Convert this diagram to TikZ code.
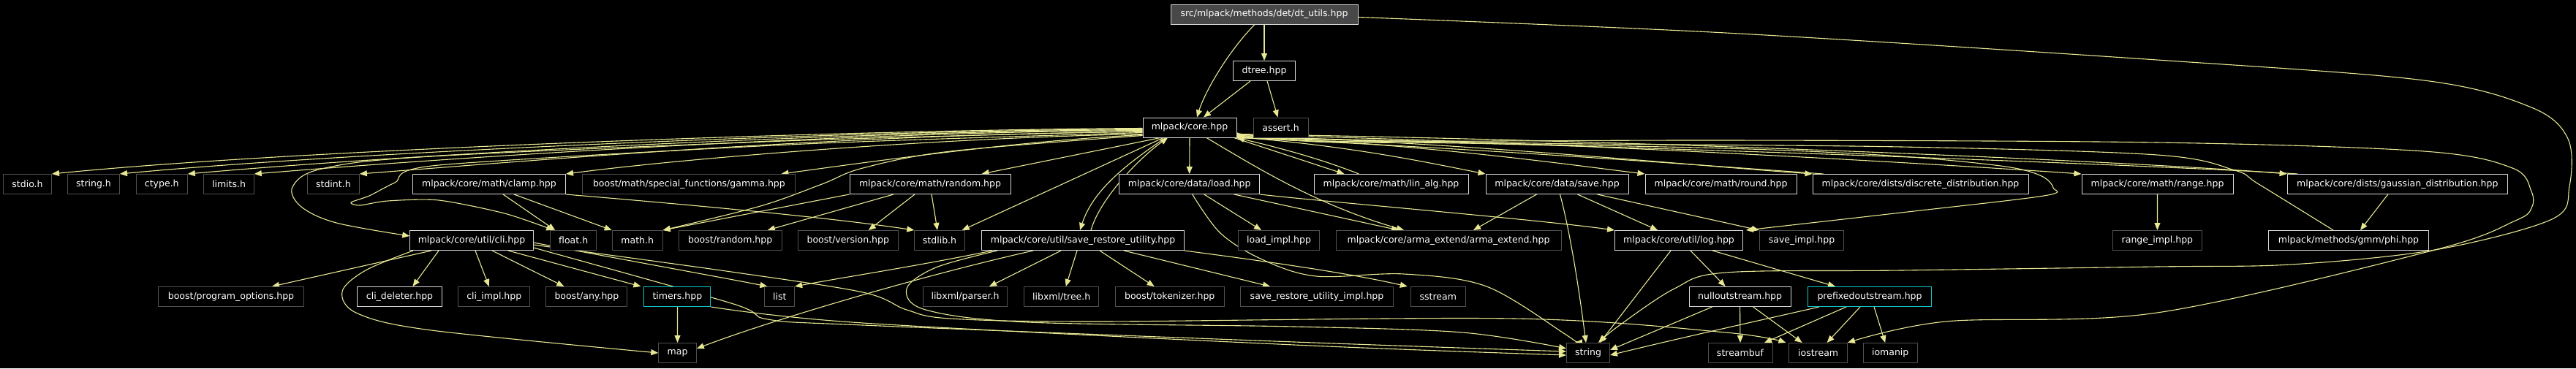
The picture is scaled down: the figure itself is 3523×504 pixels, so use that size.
\documentclass[tikz,border=0pt]{standalone}
\usepackage{fontspec}
\setmainfont{DejaVu Sans}
\usetikzlibrary{arrows.meta}
\definecolor{extgray}{HTML}{505050}
\definecolor{docgray}{HTML}{D8D8D8}
\definecolor{cyanc}{HTML}{10C8C8}
\definecolor{edgec}{HTML}{E8E894}
\definecolor{rootfill}{HTML}{484848}
\pgfdeclarelayer{bg}
\pgfsetlayers{bg,main}
\tikzset{
  box/.style={draw, fill=black, text=white, font=\fontsize{12.5}{15}\selectfont,
    minimum height=27pt, inner xsep=3pt, inner ysep=0pt, line width=1pt},
  ext/.style={box, draw=extgray},
  doc/.style={box, draw=docgray},
  cyanbox/.style={box, draw=cyanc},
  rootbox/.style={box, fill=rootfill, draw=docgray},
  edge/.style={draw=edgec, line width=1.1pt, -{Triangle[length=10pt,width=8pt]}},
  sm/.style={smooth, tension=0.55}
}
\begin{document}
\begin{tikzpicture}[x=1pt,y=-1pt]
\begin{pgfonlayer}{bg}
\fill[black] (0,0) rectangle (3523,504);
\end{pgfonlayer}
\useasboundingbox (0,0) rectangle (3523,504);
% row 0-2
\node[rootbox, minimum width=256pt] (root) at (1729,19.5) {src/mlpack/methods/det/dt\_utils.hpp};
\node[doc, minimum width=85pt] (dtree) at (1729,97) {dtree.hpp};
\node[doc, minimum width=128pt] (core) at (1627,174.5) {mlpack/core.hpp};
\node[ext, minimum width=75pt] (assert) at (1751.5,174.5) {assert.h};
% row 3
\node[ext, minimum width=66pt] (stdio) at (37.5,252) {stdio.h};
\node[ext, minimum width=71pt] (stringh) at (128,252) {string.h};
\node[ext, minimum width=70pt] (ctype) at (221.3,252) {ctype.h};
\node[ext, minimum width=68.5pt] (limits) at (313,252) {limits.h};
\node[ext, minimum width=71pt] (stdint) at (455.9,252) {stdint.h};
\node[doc, minimum width=209pt] (clamp) at (669,252) {mlpack/core/math/clamp.hpp};
\node[ext, minimum width=291pt] (gamma) at (942.4,252) {boost/math/special\_functions/gamma.hpp};
\node[doc, minimum width=220pt] (random) at (1272,252) {mlpack/core/math/random.hpp};
\node[doc, minimum width=192pt] (load) at (1626.7,252) {mlpack/core/data/load.hpp};
\node[doc, minimum width=211pt] (linalg) at (1902.5,252) {mlpack/core/math/lin\_alg.hpp};
\node[doc, minimum width=195pt] (save) at (2129.5,252) {mlpack/core/data/save.hpp};
\node[doc, minimum width=207pt] (round) at (2353.5,252) {mlpack/core/math/round.hpp};
\node[doc, minimum width=295pt] (discrete) at (2626.5,252) {mlpack/core/dists/discrete\_distribution.hpp};
\node[doc, minimum width=207pt] (range) at (2950.5,252) {mlpack/core/math/range.hpp};
\node[doc, minimum width=301.5pt] (gauss) at (3278.8,252) {mlpack/core/dists/gaussian\_distribution.hpp};
% row 4
\node[doc, minimum width=168.5pt] (cli) at (645,329) {mlpack/core/util/cli.hpp};
\node[ext, minimum width=63pt] (float) at (784.2,329) {float.h};
\node[ext, minimum width=69pt] (mathh) at (871.7,329) {math.h};
\node[ext, minimum width=141pt] (brandom) at (998.7,329) {boost/random.hpp};
\node[ext, minimum width=136.4pt] (bversion) at (1159.8,329) {boost/version.hpp};
\node[ext, minimum width=68.5pt] (stdlib) at (1285,329) {stdlib.h};
\node[doc, minimum width=277pt] (sru) at (1481,329) {mlpack/core/util/save\_restore\_utility.hpp};
\node[ext, minimum width=111pt] (loadimpl) at (1749,329) {load\_impl.hpp};
\node[ext, minimum width=308pt] (arma) at (1981,329) {mlpack/core/arma\_extend/arma\_extend.hpp};
\node[doc, minimum width=175pt] (log) at (2296,329) {mlpack/core/util/log.hpp};
\node[ext, minimum width=115.5pt] (saveimpl) at (2464,329) {save\_impl.hpp};
\node[ext, minimum width=122pt] (rangeimpl) at (2950.4,329) {range\_impl.hpp};
\node[doc, minimum width=219pt] (phi) at (3212,329) {mlpack/methods/gmm/phi.hpp};
% row 5
\node[ext, minimum width=199pt] (progopt) at (316,406) {boost/program\_options.hpp};
\node[doc, minimum width=115.5pt] (clidel) at (546.5,406) {cli\_deleter.hpp};
\node[ext, minimum width=98pt] (cliimpl) at (675.8,406) {cli\_impl.hpp};
\node[ext, minimum width=111pt] (bany) at (802.4,406) {boost/any.hpp};
\node[cyanbox, minimum width=91pt] (timers) at (926.4,406) {timers.hpp};
\node[ext, minimum width=40.7pt] (list) at (1066.3,406) {list};
\node[ext, minimum width=115pt] (parser) at (1320,406) {libxml/parser.h};
\node[ext, minimum width=101.6pt] (tree) at (1451.7,406) {libxml/tree.h};
\node[ext, minimum width=148.6pt] (tokenizer) at (1599.7,406) {boost/tokenizer.hpp};
\node[ext, minimum width=208.5pt] (sruimpl) at (1801,406) {save\_restore\_utility\_impl.hpp};
\node[ext, minimum width=75pt] (sstream) at (1966.8,406) {sstream};
\node[doc, minimum width=139pt] (nullout) at (2379.6,406) {nulloutstream.hpp};
\node[cyanbox, minimum width=168.6pt] (prefixed) at (2557,406) {prefixedoutstream.hpp};
% row 6
\node[ext, minimum width=51.6pt] (map) at (926.6,483) {map};
\node[ext, minimum width=59pt] (strg) at (2172,483) {string};
\node[ext, minimum width=88pt] (streambuf) at (2380,483) {streambuf};
\node[ext, minimum width=79.4pt] (iostream) at (2486.6,483) {iostream};
\node[ext, minimum width=74.2pt] (iomanip) at (2585.2,483) {iomanip};

\begin{pgfonlayer}{bg}
% root
\draw[edge] (root) -- (dtree);
\draw[edge] ([xshift=-13pt]root.south) .. controls (1680,70) and (1648,125) .. ([xshift=10pt]core.north);
\draw[edge] plot[sm] coordinates {([yshift=-4pt]root.east) (2360,45) (2950,82) (3315,110) (3462,147) (3512,190) (3514,255) (3490,300) (3330,342) (3133,362) (2950,365) (2600,370) (2360,373) (2290,395) (2215,445) ([xshift=14pt]strg.north)};
% dtree
\draw[edge] ([xshift=-19pt]dtree.south) -- ([xshift=19pt]core.north);
\draw[edge] ([xshift=4pt]dtree.south) -- ([xshift=-4pt]assert.north);
% core left fan
\draw[edge] ([yshift=-1pt]core.west) .. controls (1150,178) and (400,205) .. (stdio.north east);
\draw[edge] ([yshift=-2pt]core.west) .. controls (1150,179) and (480,208) .. (stringh.north east);
\draw[edge] ([yshift=-3pt]core.west) .. controls (1150,180) and (560,211) .. (ctype.north east);
\draw[edge] ([yshift=-4pt]core.west) .. controls (1150,181) and (640,214) .. (limits.north east);
\draw[edge] ([yshift=-6pt]core.west) .. controls (1150,183) and (700,222) .. (stdint.north east);
\draw[edge] ([yshift=-9pt]core.west) .. controls (1300,188) and (950,215) .. (clamp.north east);
\draw[edge] ([yshift=-10pt]core.west) .. controls (1400,192) and (1200,220) .. ([xshift=-20pt]gamma.north east);
\draw[edge] plot[sm] coordinates {([yshift=-5pt]core.west) (1100,192) (590,214) (440,231) (400,256) (412,283) (460,305) ([yshift=6pt]cli.west)};
\draw[edge] plot[smooth, tension=0.45] coordinates {([yshift=-7pt]core.west) (1100,197) (600,226) (540,250) (505,268) (480,277) (492,281) (530,275) (600,274) (690,292) ([xshift=5pt]float.north west)};
\draw[edge] plot[sm] coordinates {([yshift=-11pt]core.west) (1300,207) (1180,230) (1124,252) (1040,282) (mathh.north east)};
\draw[edge] ([xshift=-40pt]core.south) -- ([xshift=-40pt]random.north east);
\draw[edge] ([xshift=-36pt]core.south) -- ([xshift=-4pt]stdlib.north east);
\draw[edge] ([xshift=-33pt]core.south) .. controls (1540,225) and (1495,260) .. ([xshift=-4pt]sru.north);
\draw[edge] ([xshift=11pt]sru.north) .. controls (1505,270) and (1560,215) .. ([xshift=-30pt]core.south);
\draw[edge] (core.south) -- (load.north);
\draw[edge] ([xshift=23pt]core.south) .. controls (1720,230) and (1800,280) .. ([xshift=-61pt]arma.north);
% core right fan (leaves below assert.h)
\draw[edge] ([xshift=-4pt]core.south east) -- ([xshift=42pt]linalg.north west);
\draw[edge] ([yshift=1pt]core.south east) .. controls (1850,200) and (1950,222) .. (save.north west);
\draw[edge] ([yshift=2pt]core.south east) .. controls (1950,197) and (2150,226) .. (round.north west);
\draw[edge] ([yshift=3pt]core.south east) .. controls (2000,195) and (2320,227) .. (discrete.north west);
\draw[edge] ([yshift=4pt]core.south east) .. controls (2100,193) and (2600,221) .. (range.north west);
\draw[edge] ([yshift=5pt]core.south east) .. controls (2300,193) and (2950,223) .. (gauss.north west);
\draw[edge] ([xshift=62pt]linalg.north west) .. controls (1800,215) and (1740,200) .. (core.south east);
\draw[edge] ([xshift=15pt]discrete.north west) .. controls (2300,224) and (2000,202) .. (core.south east);
\draw[edge] ([xshift=15pt]gauss.north west) .. controls (2950,226) and (2200,198) .. (core.south east);
\draw[edge] plot[sm] coordinates {([xshift=-21pt]phi.north) (3089,252) (3056,233) (2950,212) (2600,201) (2100,196) ([yshift=1pt]core.south east)};
\draw[edge] plot[sm] coordinates {([yshift=6pt]core.south east) (1800,194) (2000,196) (2360,203) (2586,213) (2736,227) (2790,240) (2808,257) (2795,268) (2600,291) ([xshift=4pt]log.north east)};
\draw[edge] plot[sm] coordinates {([yshift=7pt]core.south east) (1800,193) (2360,192) (2950,195) (3315,207) (3436,230) (3462,262) (3462,285) (3440,302) (3330,342) (2950,428) (2661,440) (iostream.north east)};
% load
\draw[edge] ([xshift=61pt]load.south) -- ([xshift=-68pt]arma.north);
\draw[edge] ([xshift=20pt]load.south) -- ([xshift=-24pt]loadimpl.north);
\draw[edge] (load.south east) .. controls (1800,275) and (2100,300) .. (log.north west);
\draw[edge] plot[sm] coordinates {([xshift=4pt]load.south) (1669,319) (1726,355) (1800,378) (1920,375) (2033,392) (2140,457) ([xshift=-18pt]strg.north)};
% save
\draw[edge] ([xshift=-28pt]save.south) -- ([xshift=34pt]arma.north);
\draw[edge] ([xshift=4pt]save.south) .. controls (2148,320) and (2160,400) .. ([xshift=-3pt]strg.north);
\draw[edge] ([xshift=28pt]save.south) -- ([xshift=-29pt]log.north);
\draw[edge] ([xshift=55pt]save.south) -- (saveimpl.north west);
% range, gauss
\draw[edge] (range) -- (rangeimpl);
\draw[edge] ([xshift=-13pt]gauss.south) -- ([xshift=16pt]phi.north);
% clamp
\draw[edge] ([xshift=19pt]clamp.south) -- ([xshift=-25pt]float.north);
\draw[edge] ([xshift=34pt]clamp.south) -- (mathh.north west);
\draw[edge] (clamp.south east) .. controls (1000,285) and (1150,300) .. (stdlib.north west);
% random
\draw[edge] (random.south west) -- (mathh.north east);
\draw[edge] ([xshift=-50pt]random.south) -- ([xshift=-20pt]brandom.north east);
\draw[edge] ([xshift=-21pt]random.south) -- ([xshift=28pt]bversion.north);
\draw[edge] ([xshift=2pt]random.south) -- ([xshift=-3pt]stdlib.north);
% cli
\draw[edge] ([xshift=-55pt]cli.south) -- ([xshift=56pt]progopt.north);
\draw[edge] ([xshift=-45pt]cli.south) -- ([xshift=18pt]clidel.north);
\draw[edge] ([xshift=5pt]cli.south) -- ([xshift=-7pt]cliimpl.north);
\draw[edge] ([xshift=28pt]cli.south) -- ([xshift=-31pt]bany.north);
\draw[edge] ([xshift=50pt]cli.south) -- ([xshift=-50pt]timers.north);
\draw[edge] ([yshift=-3pt]cli.east) .. controls (850,355) and (1000,382) .. ([xshift=4pt]list.north west);
\draw[edge] plot[sm] coordinates {([xshift=-80pt]cli.south) (500,370) (468,399) (489,429) (590,452) (map.west)};
\draw[edge] plot[sm] coordinates {([yshift=-10pt]cli.east) (1000,415) (1050,437) (1180,445) (1770,468) ([yshift=2pt]strg.west)};
\draw[edge] plot[sm] coordinates {([yshift=-6pt]cli.east) (1000,372) (1180,400) (1240,424) (1300,436) (1500,440) (2071,436) (2360,455) ([xshift=-4pt]iostream.north west)};
% timers
\draw[edge] (timers) -- (map);
\draw[edge] plot[sm] coordinates {(timers.south east) (1180,442) (1770,472) ([yshift=-3pt]strg.west)};
% sru
\draw[edge] ([xshift=-30pt]sru.south) -- ([xshift=33pt]parser.north);
\draw[edge] ([xshift=-8pt]sru.south) -- ([xshift=6pt]tree.north);
\draw[edge] ([xshift=23pt]sru.south) -- ([xshift=-21pt]tokenizer.north);
\draw[edge] ([xshift=56pt]sru.south) -- ([xshift=-64pt]sruimpl.north);
\draw[edge] (sru.south east) .. controls (1750,360) and (1850,375) .. ([xshift=-42pt]sstream.north);
\draw[edge] ([xshift=-124pt]sru.south) .. controls (1250,365) and (1150,380) .. (list.north east);
\draw[edge] ([xshift=-68pt]sru.south) .. controls (1250,380) and (1050,440) .. ([yshift=6pt]map.east);
\draw[edge] plot[sm] coordinates {([xshift=-117pt]sru.south) (1280,366) (1240,395) (1266,424) (1406,441) (1770,447) (2000,455) ([yshift=6pt]strg.west)};
% log
\draw[edge] ([xshift=-11pt]log.south) -- ([xshift=16pt]strg.north);
\draw[edge] ([xshift=16pt]log.south) -- ([xshift=-20pt]nullout.north);
\draw[edge] ([xshift=46pt]log.south) -- ([xshift=-47pt]prefixed.north);
% nullout, prefixed
\draw[edge] ([xshift=-38pt]nullout.south) -- ([yshift=4pt]strg.east);
\draw[edge] (nullout.south) -- (streambuf.north);
\draw[edge] ([xshift=18pt]nullout.south) -- ([xshift=-22pt]iostream.north);
\draw[edge] ([xshift=-69pt]prefixed.south) .. controls (2400,440) and (2300,462) .. ([yshift=-3pt]strg.east);
\draw[edge] ([xshift=-32pt]prefixed.south) -- ([xshift=33pt]streambuf.north);
\draw[edge] ([xshift=-13pt]prefixed.south) -- ([xshift=12pt]iostream.north);
\draw[edge] ([xshift=6pt]prefixed.south) -- ([xshift=-7pt]iomanip.north);
\end{pgfonlayer}
\end{tikzpicture}
\end{document}
